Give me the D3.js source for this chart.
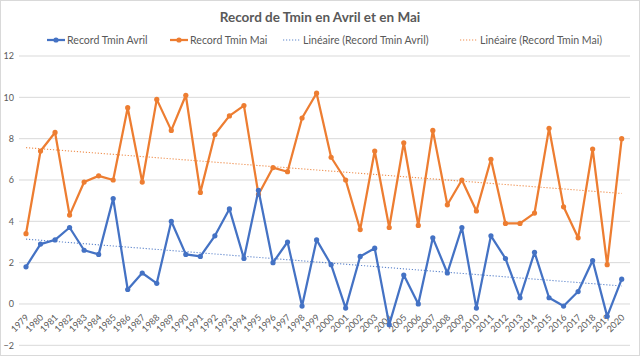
<!DOCTYPE html>
<html><head><meta charset="utf-8">
<script src="https://cdn.jsdelivr.net/npm/d3@7"></script>
<style>
html,body{margin:0;padding:0;background:#fff;}
svg{display:block;font-family:Lato,"Open Sans",sans-serif;}
</style></head>
<body><svg id="c" width="640" height="356"></svg>
<script>
const years = ["1979","1980","1981","1982","1983","1984","1985","1986","1987","1988","1989","1990","1991","1992","1993","1994","1995","1996","1997","1998","1999","2000","2001","2002","2003","2004","2005","2006","2007","2008","2009","2010","2011","2012","2013","2014","2015","2016","2017","2018","2019","2020"];
const avril = [1.8,2.9,3.1,3.7,2.6,2.4,5.1,0.7,1.5,1.0,4.0,2.4,2.3,3.3,4.6,2.2,5.5,2.0,3.0,-0.1,3.1,1.9,-0.2,2.3,2.7,-1.0,1.4,0.0,3.2,1.5,3.7,-0.2,3.3,2.2,0.3,2.5,0.3,-0.1,0.6,2.1,-0.6,1.2];
const mai = [3.4,7.4,8.3,4.3,5.9,6.2,6.0,9.5,5.9,9.9,8.4,10.1,5.4,8.2,9.1,9.6,5.3,6.6,6.4,9.0,10.2,7.1,6.0,3.6,7.4,3.7,7.8,3.8,8.4,4.8,6.0,4.5,7.0,3.9,3.9,4.4,8.5,4.7,3.2,7.5,1.9,8.0];
const yTicks = [-2,0,2,4,6,8,10,12];
const title = "Record de Tmin en Avril et en Mai";
const seriesNames = ["Record Tmin Avril","Record Tmin Mai","Linéaire (Record Tmin Avril)","Linéaire (Record Tmin Mai)"];
const colors = ["#4472C4","#ED7D31"];

const svg = d3.select("#c");
const txt = "#595959";
svg.append("rect").attr("x",0.5).attr("y",0.5).attr("width",639).attr("height",355)
  .attr("fill","#fff").attr("stroke","#d9d9d9");

const x = d3.scalePoint().domain(years).range([26,621.7]);
const y = d3.scaleLinear().domain([-2,12]).range([345.3,56]);

// gridlines
svg.append("g").selectAll("line").data(yTicks).join("line")
  .attr("x1",19).attr("x2",630).attr("y1",d=>y(d)).attr("y2",d=>y(d))
  .attr("stroke","#d9d9d9").attr("stroke-width",1);

// y labels
const yAxis = d3.axisLeft(y).tickValues(yTicks).tickSize(0).tickPadding(0);
const gy = svg.append("g").attr("transform","translate(14,0)").call(yAxis);
gy.select(".domain").remove();
gy.selectAll("text").attr("fill",txt).attr("font-size",9).attr("font-family","Lato,sans-serif");

// x labels
const xAxis = d3.axisBottom(x).tickSize(0).tickPadding(0);
const gx = svg.append("g").attr("transform","translate(0,304)").call(xAxis);
gx.select(".domain").remove();
gx.selectAll("text").attr("fill",txt).attr("font-size",9).attr("font-family","Lato,sans-serif")
  .attr("text-anchor","end").attr("dy",0).attr("y",0)
  .attr("transform","translate(3,14) rotate(-45)");

// trend lines
function fit(vals){
  const n=vals.length; const xs=d3.range(n);
  const mx=d3.mean(xs), my=d3.mean(vals);
  let num=0,den=0; xs.forEach((xi,i)=>{num+=(xi-mx)*(vals[i]-my);den+=(xi-mx)*(xi-mx);});
  const b=num/den, a=my-b*mx;
  return [a, a+b*(n-1)];
}
[avril,mai].forEach((vals,k)=>{
  const [v0,v1]=fit(vals);
  svg.append("line").attr("x1",x(years[0])).attr("x2",x(years[years.length-1]))
    .attr("y1",y(v0)).attr("y2",y(v1))
    .attr("stroke",colors[k]).attr("stroke-width",1.1).attr("stroke-dasharray","1.2,1.8")
    .attr("opacity",0.85);
});

// series lines
const line = d3.line().x((d,i)=>x(years[i])).y(d=>y(d));
[mai,avril].forEach((vals)=>{
  const k = vals===avril?0:1;
  svg.append("path").datum(vals).attr("d",line).attr("fill","none")
    .attr("stroke",colors[k]).attr("stroke-width",2.25).attr("stroke-linejoin","round");
  svg.append("g").selectAll("circle").data(vals).join("circle")
    .attr("cx",(d,i)=>x(years[i])).attr("cy",d=>y(d)).attr("r",2.6).attr("fill",colors[k]);
});

// title
svg.append("text").attr("x",320).attr("y",22).attr("text-anchor","middle")
  .attr("font-size",13.5).attr("font-weight","bold").attr("fill",txt).text(title);

// legend
const leg = [
  {x:47, c:colors[0], dash:null, m:true},
  {x:170, c:colors[1], dash:null, m:true},
  {x:283, c:colors[0], dash:"1.2,1.8", m:false},
  {x:460, c:colors[1], dash:"1.2,1.8", m:false}
];
leg.forEach((l,i)=>{
  const g = svg.append("g");
  g.append("line").attr("x1",l.x).attr("x2",l.x+18).attr("y1",40).attr("y2",40)
    .attr("stroke",l.c).attr("stroke-width",l.m?2.25:1.1).attr("stroke-dasharray",l.dash)
    .attr("opacity",l.m?1:0.85);
  if(l.m) g.append("circle").attr("cx",l.x+9).attr("cy",40).attr("r",2.6).attr("fill",l.c);
  g.append("text").attr("x",l.x+20).attr("y",44).attr("font-size",10.6).attr("fill",txt).text(seriesNames[i]);
});
</script></body></html>
